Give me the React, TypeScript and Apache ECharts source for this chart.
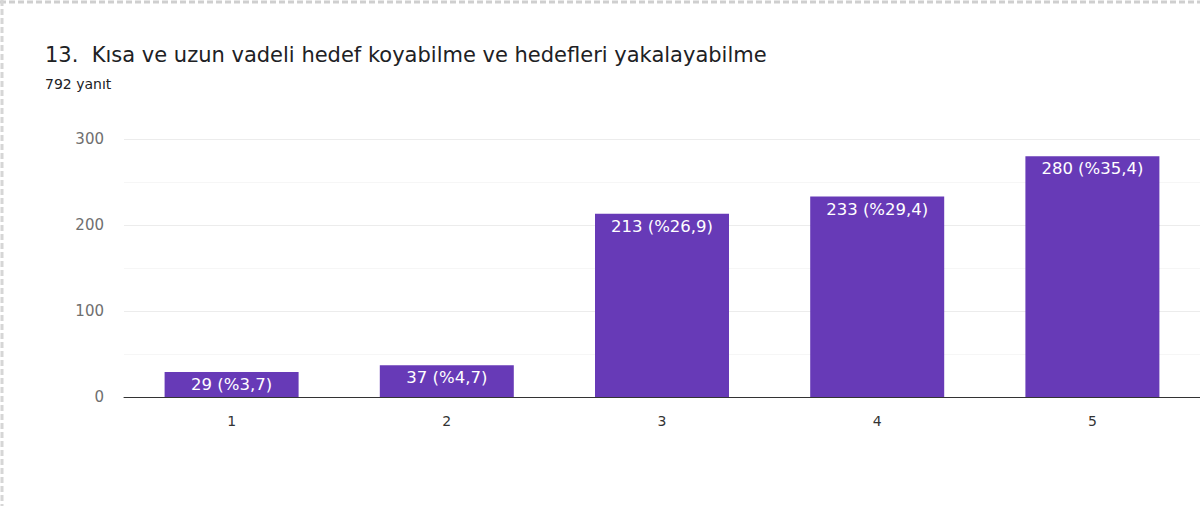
import React, { useEffect, useRef } from "react";
import * as echarts from "echarts";

const titleText = "13.  Kısa ve uzun vadeli hedef koyabilme ve hedefleri yakalayabilme";
const subtitleText = "792 yanıt";
const categories = ["1", "2", "3", "4", "5"];
const counts = [29, 37, 213, 233, 280];
const percents = ["%3,7", "%4,7", "%26,9", "%29,4", "%35,4"];
const yTicks = [0, 100, 200, 300];

const FONT = "DejaVu Sans";

export default function App() {
  const ref = useRef<HTMLDivElement>(null);
  useEffect(() => {
    document.body.style.margin = "0";
    const chart = echarts.init(ref.current!, null, { renderer: "svg" });
    chart.setOption({
      animation: false,
      backgroundColor: "#ffffff",
      title: [
        {
          text: titleText,
          left: 40,
          top: 39,
          textStyle: { fontFamily: FONT, fontSize: 21, fontWeight: "normal", color: "#202124" },
        },
        {
          text: subtitleText,
          left: 40,
          top: 72,
          textStyle: { fontFamily: FONT, fontSize: 14, fontWeight: "normal", color: "#202124" },
        },
      ],
      graphic: [
        { type: "line", shape: { x1: 0, y1: 2, x2: 1200, y2: 2 }, style: { stroke: "#cfcfcf", lineWidth: 3, lineDash: [6, 3] }, silent: true },
        { type: "line", shape: { x1: 2, y1: 0, x2: 2, y2: 506 }, style: { stroke: "#d6d6d6", lineWidth: 3, lineDash: [6, 3] }, silent: true },
      ],
      grid: { left: 124, top: 139, width: 1078, bottom: 109, containLabel: false },
      xAxis: {
        type: "category",
        data: categories,
        axisLine: { lineStyle: { color: "#333333", width: 1 } },
        axisTick: { show: false },
        axisLabel: { color: "#333333", fontFamily: FONT, fontSize: 14, margin: 17 },
      },
      yAxis: {
        type: "value",
        min: yTicks[0],
        max: yTicks[yTicks.length - 1],
        interval: 100,
        axisLine: { show: false },
        axisTick: { show: false },
        axisLabel: { color: "#6f6f6f", fontFamily: FONT, fontSize: 15, margin: 20 },
        splitLine: { lineStyle: { color: "#ececec" } },
        minorTick: { show: false, splitNumber: 2 },
        minorSplitLine: { show: true, lineStyle: { color: "#f6f6f6" } },
      },
      series: [
        {
          type: "bar",
          data: counts,
          barWidth: 134,
          itemStyle: { color: "#673ab7" },
          label: {
            show: true,
            position: "insideTop",
            distance: 4,
            color: "#ffffff",
            fontFamily: FONT,
            fontSize: 16.5,
            formatter: (p: any) => `${counts[p.dataIndex]} (${percents[p.dataIndex]})`,
          },
        },
      ],
    });
    return () => chart.dispose();
  }, []);
  return <div ref={ref} style={{ width: 1200, height: 506 }} />;
}
